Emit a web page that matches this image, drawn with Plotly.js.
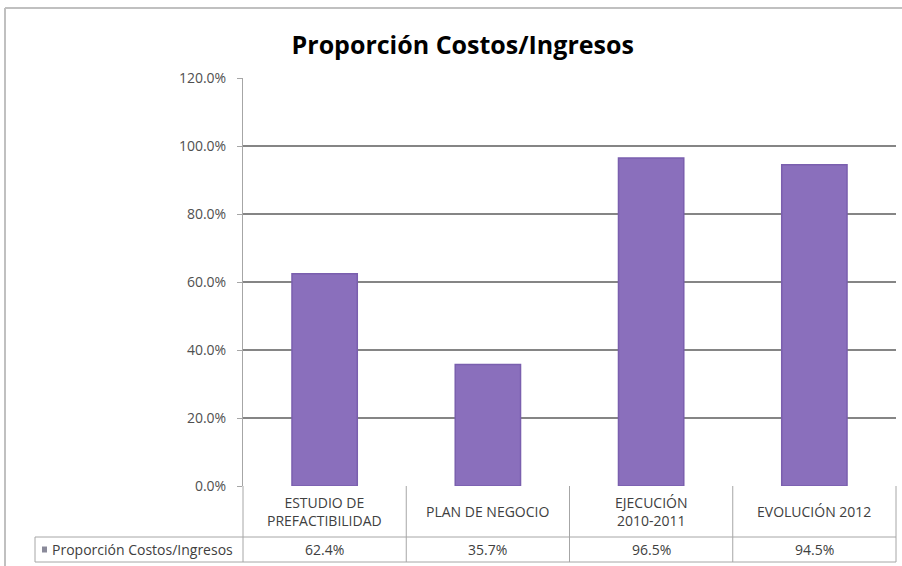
<!DOCTYPE html>
<html>
<head>
<meta charset="utf-8">
<script src="https://cdn.plot.ly/plotly-3.0.1.min.js"></script>
<style>
html,body{margin:0;padding:0;background:#fff;}
#chart{width:902px;height:566px;}
</style>
</head>
<body>
<div id="chart"></div>
<script>
const categories = ["ESTUDIO DE<br>PREFACTIBILIDAD", "PLAN DE NEGOCIO", "EJECUCIÓN<br>2010-2011", "EVOLUCIÓN 2012"];
const values = [0.624, 0.357, 0.965, 0.945];
const valueLabels = ["62.4%", "35.7%", "96.5%", "94.5%"];
const seriesName = "Proporción Costos/Ingresos";
const tickVals = [0, 0.2, 0.4, 0.6, 0.8, 1.0, 1.2];
const tickText = ["0.0%", "20.0%", "40.0%", "60.0%", "80.0%", "100.0%", "120.0%"];

const idx = categories.map((c, i) => i);
const n = categories.length;
const lineCol = "#a6a6a6";
const font = "Open Sans, Liberation Sans, sans-serif";
const txtCol = "#404040";

// plot area geometry (pixels) used to place table pieces in paper coords
const W = 653, H = 408;
const px = v => v / W, py = v => v / H;
const catPaper = i => (i + 0.5) / n;      // category centre in paper coords
const edgePaper = k => k / n;             // category boundary in paper coords

const shapes = [];
const annotations = [];
const yRow1 = -py(51), yRow2 = -py(76);
const xLeft = -px(208);
shapes.push({type: "line", xref: "paper", yref: "paper", x0: xLeft, x1: 1, y0: yRow1, y1: yRow1, line: {color: lineCol, width: 1}});
shapes.push({type: "line", xref: "paper", yref: "paper", x0: xLeft, x1: 1, y0: yRow2, y1: yRow2, line: {color: lineCol, width: 1}});
shapes.push({type: "line", xref: "paper", yref: "paper", x0: xLeft, x1: xLeft, y0: yRow1, y1: yRow2, line: {color: lineCol, width: 1}});
for (let k = 0; k <= n; k++) {
  shapes.push({type: "line", xref: "paper", yref: "paper", x0: edgePaper(k), x1: edgePaper(k), y0: 0, y1: yRow2, line: {color: lineCol, width: 1}});
}
idx.forEach(i => {
  annotations.push({xref: "paper", yref: "paper", x: catPaper(i), y: yRow1 / 2, text: categories[i], showarrow: false,
    font: {family: font, size: 14, color: txtCol}, xanchor: "center", yanchor: "middle"});
  annotations.push({xref: "paper", yref: "paper", x: catPaper(i), y: (yRow1 + yRow2) / 2, text: valueLabels[i], showarrow: false,
    font: {family: font, size: 14, color: txtCol}, xanchor: "center", yanchor: "middle"});
});
const yMid = (yRow1 + yRow2) / 2;
shapes.push({type: "rect", xref: "paper", yref: "paper", x0: xLeft + px(7), x1: xLeft + px(12),
  y0: yMid - py(3), y1: yMid + py(3), fillcolor: "#8a8a9a", line: {width: 0}});
annotations.push({xref: "paper", yref: "paper", x: xLeft + px(15), y: yMid, text: seriesName, showarrow: false,
  font: {family: font, size: 14, color: txtCol}, xanchor: "left", yanchor: "middle"});

// outer chart border (top and left visible)
shapes.push({type: "line", xref: "paper", yref: "paper", x0: -px(238), x1: 1 + px(20), y0: 1 + py(70), y1: 1 + py(70),
  line: {color: "#c0c0c0", width: 2}});
shapes.push({type: "line", xref: "paper", yref: "paper", x0: -px(238), x1: -px(238), y0: 1 + py(70), y1: -py(90),
  line: {color: "#c0c0c0", width: 2}});

const trace = {
  type: "bar",
  x: idx,
  y: values,
  width: 0.4,
  marker: {color: "#8a6fbc", line: {color: "#7a5fae", width: 1.5}},
  name: seriesName,
  hoverinfo: "skip"
};

const layout = {
  width: 902, height: 566,
  margin: {l: 243, r: 6, t: 78, b: 80},
  paper_bgcolor: "#fff", plot_bgcolor: "#fff",
  title: {text: "<b>Proporción Costos/Ingresos</b>", x: 0.513, xanchor: "center", y: 0.92, yanchor: "middle",
    font: {family: font, size: 25, color: "#000"}},
  showlegend: false,
  xaxis: {range: [-0.5, n - 0.5], showticklabels: false, showgrid: false, zeroline: false, ticks: "", fixedrange: true,
    showline: false},
  yaxis: {range: [0, 1.2], tickvals: tickVals, ticktext: tickText, showgrid: true, gridcolor: "#858585", gridwidth: 1.3,
    zeroline: false, showline: true, linecolor: lineCol, ticks: "outside", ticklen: 5, tickcolor: lineCol,
    tickfont: {family: font, size: 14, color: "#505050"}, ticklabelstandoff: 8},
  shapes: shapes,
  annotations: annotations
};

Plotly.newPlot("chart", [trace], layout, {displayModeBar: false, staticPlot: true});
</script>
</body>
</html>
